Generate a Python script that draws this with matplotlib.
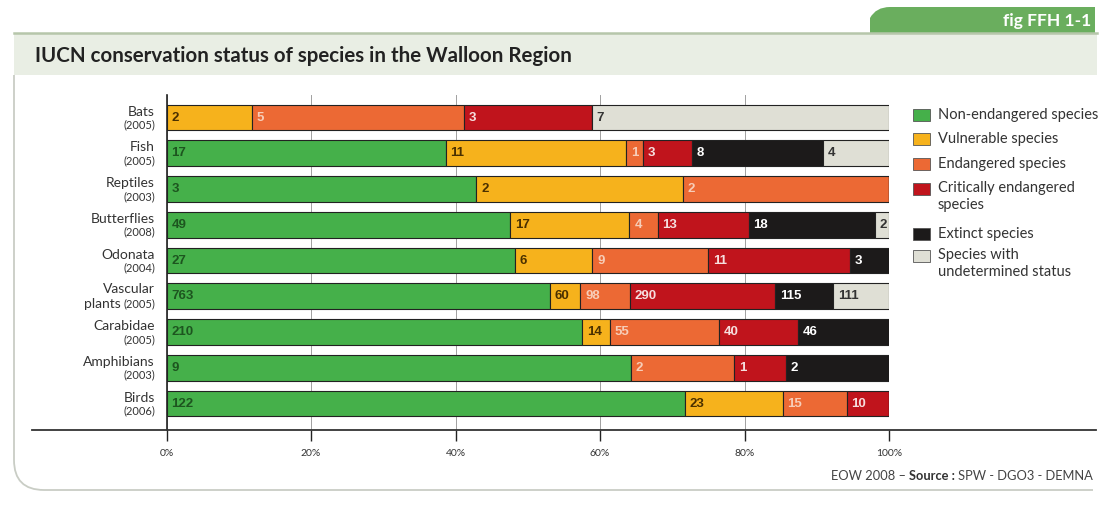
import numpy as np
import matplotlib
matplotlib.use("Agg")
import matplotlib.pyplot as plt
from matplotlib.patches import Rectangle, PathPatch
from matplotlib.path import Path
from matplotlib.lines import Line2D

# species counts per IUCN status, one list per status
groups = ["Bats", "Fish", "Reptiles", "Butterflies", "Odonata", "Vascular",
          "Carabidae", "Amphibians", "Birds"]
years = ["(2005)", "(2005)", "(2003)", "(2008)", "(2004)", "(2005)",
         "(2005)", "(2003)", "(2006)"]

non_endangered = [0, 17, 3, 49, 27, 763, 210, 9, 122]
vulnerable = [2, 11, 2, 17, 6, 60, 14, 0, 23]
endangered = [5, 1, 2, 4, 9, 98, 55, 2, 15]
critical = [3, 3, 0, 13, 11, 290, 40, 1, 10]
extinct = [0, 8, 0, 18, 3, 115, 46, 2, 0]
undetermined = [7, 4, 0, 2, 0, 111, 0, 0, 0]

status_names = ["Non-endangered species", "Vulnerable species", "Endangered species",
                "Critically endangered\nspecies", "Extinct species",
                "Species with\nundetermined status"]
colors = ["#45b04a", "#f6b21c", "#ec6934", "#c0141c", "#1c1a1a", "#dfdfd5"]
text_colors = ["#1d551f", "#4a3000", "#f7cdb8", "#f6dede", "#ffffff", "#333333"]

ticks = [0, 20, 40, 60, 80, 100]
tick_labels = ["0%", "20%", "40%", "60%", "80%", "100%"]

W, H = 1109, 512
fig = plt.figure(figsize=(W / 100, H / 100), dpi=100)
fig.patch.set_facecolor("white")


def px(x, y):
    return x / W, 1 - y / H


# header tab and title band
tab = Path([px(870, 33), px(870, 18), px(876, 7), px(890, 7), px(1095, 7),
            px(1095, 33), px(870, 33)],
           [Path.MOVETO, Path.LINETO, Path.CURVE3, Path.CURVE3, Path.LINETO,
            Path.LINETO, Path.CLOSEPOLY])
fig.add_artist(PathPatch(tab, transform=fig.transFigure, facecolor="#6aae5e",
                         edgecolor="none"))
fig.text(*px(1091, 21), "fig FFH 1-1", color="white", fontsize=12.5,
         fontweight="bold", family="Lato", ha="right", va="center")

x0, y0 = px(14, 75)
x1, y1 = px(1097, 33)
fig.add_artist(Rectangle((x0, y0), x1 - x0, y1 - y0, transform=fig.transFigure,
                         facecolor="#e9eee4", edgecolor="none"))
fig.add_artist(Line2D([x0, x1], [y1, y1], transform=fig.transFigure,
                      color="#b6c6aa", lw=1.8))
fig.text(*px(35, 56), "IUCN conservation status of species in the Walloon Region",
         fontsize=14.8, fontweight="bold", family="Lato", color="#222222",
         ha="left", va="center")

# rounded frame at bottom-left
frame = Path([px(14, 75), px(14, 460), px(14, 490), px(44, 490), px(1093, 490)],
             [Path.MOVETO, Path.LINETO, Path.CURVE3, Path.CURVE3, Path.LINETO])
fig.add_artist(PathPatch(frame, transform=fig.transFigure, facecolor="none",
                         edgecolor="#c9cdc5", lw=1.3))

# the stacked bars
ax = fig.add_axes([166.5 / W, 1 - 430 / H, 722.5 / W, (430 - 95) / H])
data = np.array([non_endangered, vulnerable, endangered, critical, extinct,
                 undetermined], dtype=float)
totals = data.sum(axis=0)
shares = data / totals * 100
ypos = np.arange(len(groups))
left = np.zeros(len(groups))
for k in range(len(status_names)):
    ax.barh(ypos, shares[k], left=left, height=0.72, color=colors[k],
            edgecolor="#222222", linewidth=0.8, zorder=3)
    for i in range(len(groups)):
        if data[k, i] > 0:
            ax.annotate(str(int(data[k, i])), (left[i], ypos[i]), xytext=(3.5, 0),
                        textcoords="offset points", ha="left", va="center",
                        fontsize=9.5, fontweight="bold", family="Liberation Sans",
                        color=text_colors[k], zorder=4)
    left += shares[k]

ax.set_xlim(0, 100)
ax.set_ylim(8.74, -0.63)
ax.set_xticks(ticks)
ax.set_xticklabels(tick_labels, fontsize=7.5, family="Lato", color="#333333")
ax.tick_params(axis="x", direction="out", length=8, width=1, color="#222222", pad=6)
ax.set_yticks([])
ax.xaxis.grid(True, color="#a0a0a0", lw=0.7, zorder=0)
for side in ["top", "right", "bottom"]:
    ax.spines[side].set_visible(False)
ax.spines["left"].set_color("#222222")
ax.spines["left"].set_linewidth(1.2)
ax.set_facecolor("none")

# long baseline under the bars
fig.add_artist(Line2D([32 / W, 1096 / W], [1 - 430 / H] * 2, transform=fig.transFigure,
                      color="#333333", lw=1.3))

# category labels
fig.canvas.draw()
renderer = fig.canvas.get_renderer()
for i in range(len(groups)):
    yc = ax.transData.transform((0, ypos[i]))[1]
    yc = 1 - (H - yc) / H
    name_y = yc + 6 / H
    year_y = yc - 7.5 / H
    if groups[i] == "Vascular":
        name_y = yc + 7 / H
        yr = fig.text(155 / W, year_y, years[i], fontsize=8, family="Lato",
                      color="#333333", ha="right", va="center")
        bb = yr.get_window_extent(renderer)
        fig.text(bb.x0 / W - 2 / W, year_y, "plants", fontsize=10, family="Lato",
                 color="#333333", ha="right", va="center")
    else:
        fig.text(155 / W, year_y, years[i], fontsize=8, family="Lato",
                 color="#333333", ha="right", va="center")
    fig.text(155 / W, name_y, groups[i], fontsize=10, family="Lato",
             color="#333333", ha="right", va="center")

# legend
legend_y = [115, 139, 164, 189, 234, 256]
for k in range(len(status_names)):
    sx, sy = px(913, legend_y[k] + 6)
    fig.add_artist(Rectangle((sx, sy), 17 / W, 12 / H, transform=fig.transFigure,
                             facecolor=colors[k], edgecolor="#555555", lw=0.6))
    if "\n" in status_names[k]:
        fig.text(*px(938, legend_y[k] - 8), status_names[k], fontsize=10.5,
                 family="Lato", color="#333333", ha="left", va="top",
                 linespacing=1.3)
    else:
        fig.text(*px(938, legend_y[k]), status_names[k], fontsize=10.5,
                 family="Lato", color="#333333", ha="left", va="center")

# source line, right aligned
src = fig.text(*px(1093, 476), "SPW - DGO3 - DEMNA", fontsize=9.3, family="Lato",
               color="#444444", ha="right", va="center")
bb = src.get_window_extent(renderer)
s2 = fig.text(bb.x0 / W, 1 - 476 / H, "Source : ", fontsize=9.3, family="Lato",
              fontweight="bold", color="#333333", ha="right", va="center")
bb = s2.get_window_extent(renderer)
fig.text(bb.x0 / W, 1 - 476 / H, "EOW 2008 – ", fontsize=9.3, family="Lato",
         color="#444444", ha="right", va="center")

fig.savefig("out.png", dpi=100, facecolor="white")
